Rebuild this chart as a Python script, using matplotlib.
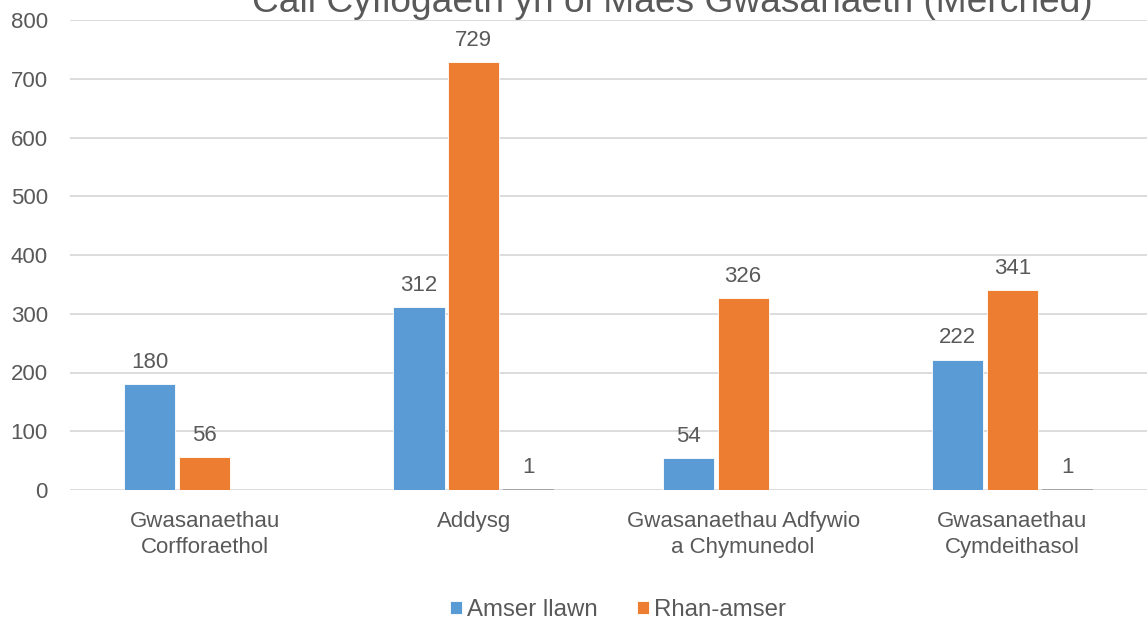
import matplotlib.pyplot as plt
import numpy as np

plt.rcParams['font.family'] = ['Liberation Sans', 'DejaVu Sans']

# data
categories = ['Gwasanaethau\nCorfforaethol', 'Addysg',
              'Gwasanaethau Adfywio\na Chymunedol', 'Gwasanaethau\nCymdeithasol']
full_time = [180, 312, 54, 222]
part_time = [56, 729, 326, 341]
other = [0, 1, 0, 1]
series_names = ['Amser llawn', 'Rhan-amser']

blue = '#5B9BD5'
orange = '#ED7D31'
grey = '#A5A5A5'
txt = '#595959'
grid = '#D9D9D9'

fig = plt.figure(figsize=(11.47, 6.22), dpi=100)
ax = fig.add_axes([70/1147, 1 - 490/622, 1 - 70/1147, (490 - 20)/622])

x = np.arange(len(categories))
slot = 0.204
w = 0.19
b1 = ax.bar(x - slot, full_time, w, color=blue, label=series_names[0],
            edgecolor='white', linewidth=0.6)
b2 = ax.bar(x, part_time, w, color=orange, label=series_names[1],
            edgecolor='white', linewidth=0.6)
b3 = ax.bar(x + slot, other, w, color=grey, label='_nolegend_', linewidth=0)

ax.bar_label(b1, padding=8, fontsize=16, color=txt)
ax.bar_label(b2, padding=8, fontsize=16, color=txt)
ax.bar_label(b3, labels=[str(v) if v else '' for v in other],
             padding=8, fontsize=16, color=txt)

ax.set_xlim(-0.5, len(categories) - 0.5)
ax.set_ylim(0, 800)
ax.set_yticks(np.arange(0, 801, 100))
ax.set_xticks(x)
ax.set_xticklabels(categories, fontsize=16, color=txt, linespacing=1.3)
ax.tick_params(axis='y', labelsize=16, labelcolor=txt, length=0, pad=16)
ax.tick_params(axis='x', length=0, pad=15)
ax.yaxis.grid(True, color=grid, linewidth=1.3)
ax.set_axisbelow(True)
for s in ax.spines.values():
    s.set_visible(False)

# title sits partly above the top edge, as in the source image
fig.text(672/1147, 1 - 12/622, 'Cail Cyflogaeth yn ôl Maes Gwasanaeth (Merched)',
         ha='center', va='baseline', fontsize=26.7, color=txt)

fig.legend(loc='center', bbox_to_anchor=(618/1147, 1 - 610/622), ncol=2,
           frameon=False, fontsize=17.3, labelcolor=txt, handlelength=0.5,
           handleheight=0.5, handletextpad=0.2, columnspacing=1.65)

fig.savefig('out.png', dpi=100)
